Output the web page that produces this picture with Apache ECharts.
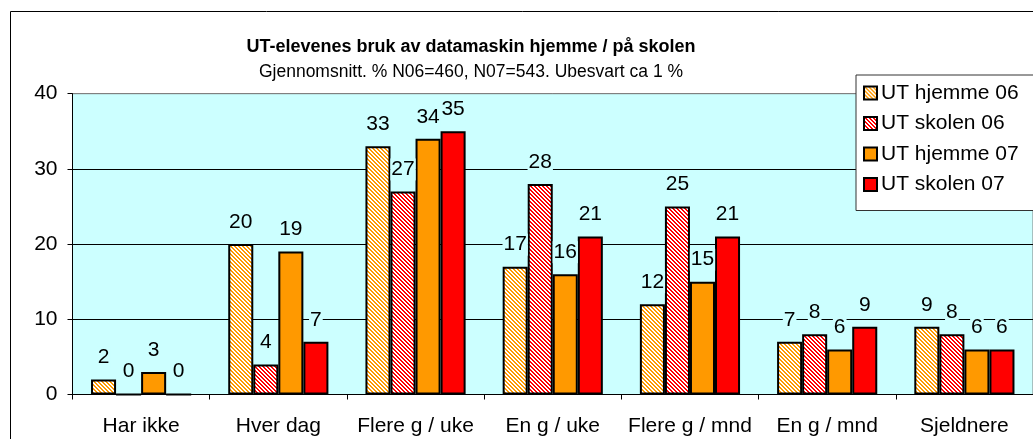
<!DOCTYPE html>
<html lang="no">
<head>
  <meta charset="UTF-8">
  <title>UT-elevenes bruk av datamaskin</title>
  <script src="https://cdn.jsdelivr.net/npm/echarts@6/dist/echarts.min.js"></script>
  <style>
    html, body { margin: 0; padding: 0; background: #fff; }
    #chart { width: 1033px; height: 439px; }
  </style>
</head>
<body>
  <div id="chart"></div>
  <script>
    // data
    var categories = ['Har ikke', 'Hver dag', 'Flere g / uke', 'En g / uke', 'Flere g / mnd', 'En g / mnd', 'Sjeldnere'];
    var seriesNames = ['UT hjemme 06', 'UT skolen 06', 'UT hjemme 07', 'UT skolen 07'];
    var hjemme06 = [2, 20, 33, 17, 12, 7, 9];
    var skolen06 = [0, 4, 27, 28, 25, 8, 8];
    var hjemme07 = [3, 19, 34, 16, 15, 6, 6];
    var skolen07 = [0, 7, 35, 21, 21, 9, 6];
    var yTicks = [0, 10, 20, 30, 40];

    var FONT = 'Arial, Liberation Sans, sans-serif';

    // diagonal hatch: coloured stripes on white
    function hatch(col) {
      var c = document.createElement('canvas');
      c.width = 8; c.height = 8;
      var ctx = c.getContext('2d');
      ctx.fillStyle = '#fff';
      ctx.fillRect(0, 0, 8, 8);
      ctx.fillStyle = col;
      for (var x = 0; x < 8; x++) {
        for (var y = 0; y < 8; y++) {
          if (((x - y + 8) % 4) < 2) ctx.fillRect(x, y, 1, 1);
        }
      }
      return { image: c, repeat: 'repeat' };
    }

    var fills = [hatch('#FF9900'), hatch('#FF0000'), '#FF9900', '#FF0000'];
    var values = [hjemme06, skolen06, hjemme07, skolen07];

    var chart = echarts.init(document.getElementById('chart'));

    var series = [];
    for (var i = 0; i < seriesNames.length; i++) {
      series.push({
        name: seriesNames[i],
        type: 'bar',
        barGap: '0%',
        barCategoryGap: '27%',
        itemStyle: {
          color: fills[i],
          borderColor: '#000',
          borderWidth: 2
        },
        label: {
          show: true,
          position: 'top',
          distance: 11,
          fontFamily: FONT,
          fontSize: 21,
          lineHeight: 22,
          color: '#000',
          backgroundColor: '#CCFFFF',
          padding: [0, 1]
        },
        data: values[i]
      });
    }

    var option = {
      animation: false,
      backgroundColor: '#fff',
      textStyle: { fontFamily: FONT },
      title: {
        text: 'UT-elevenes bruk av datamaskin hjemme / på skolen',
        subtext: 'Gjennomsnitt. % N06=460, N07=543. Ubesvart ca 1 %',
        left: 466,
        textAlign: 'center',
        top: 32,
        itemGap: 5,
        textStyle: { fontSize: 18, lineHeight: 20, fontWeight: 'bold', color: '#000' },
        subtextStyle: { fontSize: 17.5, lineHeight: 20, color: '#000' }
      },
      legend: {
        orient: 'vertical',
        left: 856,
        top: 75,
        padding: [6, 40, 14, 7],
        itemGap: 6.5,
        itemWidth: 13,
        itemHeight: 13,
        icon: 'rect',
        backgroundColor: '#fff',
        borderColor: '#333',
        borderWidth: 1,
        textStyle: { fontSize: 21, lineHeight: 24, color: '#000', padding: [0, 0, 0, -1] },
        data: seriesNames
      },
      grid: {
        left: 72.5,
        top: 93.7,
        width: 962.5,
        height: 300.8,
        show: true,
        backgroundColor: '#CCFFFF',
        borderColor: '#808080',
        borderWidth: 1
      },
      xAxis: {
        type: 'category',
        data: categories,
        axisLine: { lineStyle: { color: '#000', width: 1 } },
        axisTick: { show: true, length: 5, lineStyle: { color: '#000' } },
        axisLabel: { interval: 0, fontSize: 21, lineHeight: 22, color: '#000', margin: 21 }
      },
      yAxis: {
        type: 'value',
        min: yTicks[0],
        max: yTicks[yTicks.length - 1],
        interval: 10,
        axisLine: { show: true, lineStyle: { color: '#000', width: 1 } },
        axisTick: { show: true, length: 5, lineStyle: { color: '#000' } },
        axisLabel: { fontSize: 21, color: '#000', margin: 15 },
        splitLine: { show: true, lineStyle: { color: ['#000', '#000', '#000', '#000', '#808080'], width: 1 } }
      },
      graphic: [{
        type: 'rect',
        shape: { x: 10.5, y: 11.5, width: 1040, height: 440 },
        style: { fill: 'none', stroke: '#000', lineWidth: 1 },
        silent: true,
        z: -1
      }],
      series: series
    };

    chart.setOption(option);
  </script>
</body>
</html>
